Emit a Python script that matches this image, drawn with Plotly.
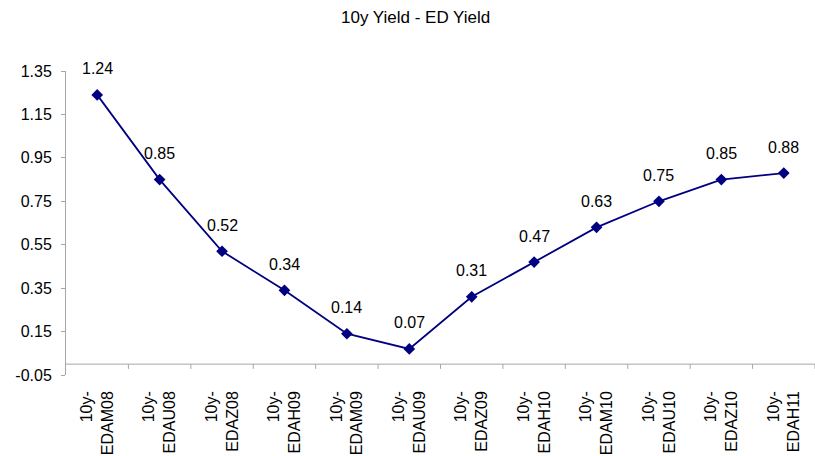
import plotly.graph_objects as go

# Spread between the 10y yield and each Eurodollar contract yield
contracts = ["EDAM08", "EDAU08", "EDAZ08", "EDAH09", "EDAM09", "EDAU09",
             "EDAZ09", "EDAH10", "EDAM10", "EDAU10", "EDAZ10", "EDAH11"]
spread = [1.24, 0.85, 0.52, 0.34, 0.14, 0.07, 0.31, 0.47, 0.63, 0.75, 0.85, 0.88]
y_ticks = [-0.05, 0.15, 0.35, 0.55, 0.75, 0.95, 1.15, 1.35]

categories = ["10y-" + c for c in contracts]
tick_text = ["10y-<br>" + c for c in contracts]

NAVY = "#000080"
AXIS_GREY = "#a6a6a6"
FONT = "Liberation Sans, Arial, sans-serif"

fig = go.Figure()
fig.add_trace(go.Scatter(
    x=categories, y=spread, mode="lines+markers",
    line=dict(color=NAVY, width=1.8),
    marker=dict(symbol="diamond", size=9, color=NAVY),
    hoverinfo="x+y", showlegend=False,
))

# value labels above each point
for c, v in zip(categories, spread):
    fig.add_annotation(x=c, y=v, text=f"{v:.2f}", showarrow=False,
                       yshift=26, font=dict(size=16, color="black", family=FONT))

# horizontal category axis drawn where y = 0
fig.add_shape(type="line", xref="paper", yref="y", x0=0, x1=1, y0=0, y1=0,
              line=dict(color=AXIS_GREY, width=1))
# category boundary tick marks hanging from the y = 0 axis
n = len(categories)
for i in range(1, n + 1):
    fig.add_shape(type="line", xref="x", yref="y", x0=i - 0.5, x1=i - 0.5,
                  y0=0, y1=-0.022, line=dict(color=AXIS_GREY, width=1))

fig.update_layout(
    width=815, height=456,
    margin=dict(l=66, r=0, t=71, b=81),
    paper_bgcolor="white", plot_bgcolor="white",
    font=dict(family=FONT, size=16, color="black"),
    title=dict(text="10y Yield - ED Yield", x=0.51, xanchor="center",
               y=1 - 17 / 456, yanchor="middle",
               font=dict(size=17, family=FONT, color="black")),
    xaxis=dict(
        type="category", range=[-0.5, n - 0.5],
        tickmode="array", tickvals=categories, ticktext=tick_text,
        tickangle=-90, showgrid=False, showline=False, zeroline=False,
        ticks="", ticklabelstandoff=12,
        tickfont=dict(size=16, family=FONT, color="black"),
    ),
    yaxis=dict(
        range=[-0.05, 1.35], tickmode="array", tickvals=y_ticks,
        ticktext=[f"{t:.2f}" for t in y_ticks],
        showgrid=False, zeroline=False, showline=True, linecolor=AXIS_GREY,
        linewidth=1, ticks="outside", ticklen=4, tickcolor=AXIS_GREY,
        ticklabelstandoff=6,
        tickfont=dict(size=16, family=FONT, color="black"),
    ),
)

fig.write_html("out.html")
